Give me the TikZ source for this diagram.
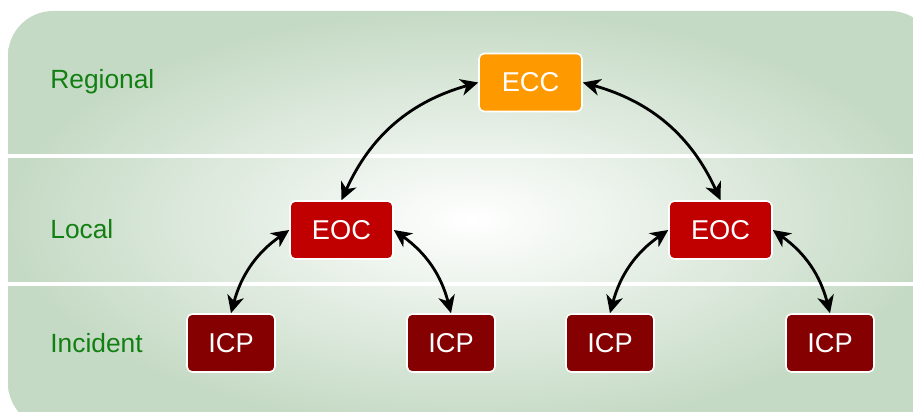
\documentclass[tikz,border=0pt]{standalone}
\usepackage{fontspec}
\setmainfont{Liberation Sans}
\usetikzlibrary{arrows.meta, positioning, shadings}
\definecolor{eccColor}{HTML}{FF9900}
\definecolor{eocColor}{HTML}{C00000}
\definecolor{icpColor}{HTML}{850000}
\definecolor{levelColor}{HTML}{127F12}
\definecolor{bgEdge}{HTML}{C5DAC5}

\begin{document}
\begin{tikzpicture}[
    x=0.02cm, y=-0.02cm,
    % Box Styles
    base/.style={
        draw=white,
        line width=0.9pt,
        rounded corners=3pt,
        align=center,
        text=white,
        font=\fontsize{15.5}{18}\selectfont,
        minimum height=1.16cm,
        inner sep=2pt
    },
    eccBox/.style={
        base,
        fill=eccColor,
        minimum width=2.06cm
    },
    eocBox/.style={
        base,
        fill=eocColor,
        minimum width=2.06cm
    },
    icpBox/.style={
        base,
        fill=icpColor,
        minimum width=1.76cm
    },
    % Line Styles
    link/.style={
        {Stealth[length=10pt,width=9.5pt,inset=3pt]}-{Stealth[length=10pt,width=9.5pt,inset=3pt]},
        line width=1.6pt,
        black
    },
    % Text Styles
    levelLabel/.style={
        font=\fontsize{15}{18}\selectfont,
        text=levelColor,
        anchor=west,
        inner sep=0pt
    }
]

    % --- BACKGROUND ---
    \useasboundingbox (0,0) rectangle (913,412);
    \clip (0,0) rectangle (913,412);
    \shade[inner color=white, outer color=bgEdge, rounded corners=0.9cm]
        (8,11) rectangle (935,428);

    % Level separators
    \draw[white, line width=1.8pt] (8,156) -- (913,156);
    \draw[white, line width=1.8pt] (8,284) -- (913,284);

    % --- LEVEL LABELS ---
    \node[levelLabel] (regional) at (50,82) {Regional};
    \node[levelLabel] (local) at (50,229) {Local};
    \node[levelLabel] (incident) at (50,343) {Incident};

    % --- REGIONAL ---
    \node[eccBox] (ecc) at (530.5,82.5) {ECC};

    % --- LOCAL ---
    \node[eocBox] (eocLeft) at (341.5,230) {EOC};
    \node[eocBox] (eocRight) at (720.5,230) {EOC};

    % --- INCIDENT ---
    \node[icpBox] (icp1) at (231,343) {ICP};
    \node[icpBox] (icp2) at (451,343) {ICP};
    \node[icpBox] (icp3) at (610,343) {ICP};
    \node[icpBox] (icp4) at (830,343) {ICP};

    % --- CONNECTIONS ---
    \draw[link] (ecc.west) to[bend right=25] (eocLeft.north);
    \draw[link] (ecc.east) to[bend left=25] (eocRight.north);

    \draw[link] (eocLeft.west) to[bend right=20] (icp1.north);
    \draw[link] (eocLeft.east) to[bend left=20] (icp2.north);
    \draw[link] (eocRight.west) to[bend right=20] (icp3.north);
    \draw[link] (eocRight.east) to[bend left=20] (icp4.north);

\end{tikzpicture}
\end{document}
